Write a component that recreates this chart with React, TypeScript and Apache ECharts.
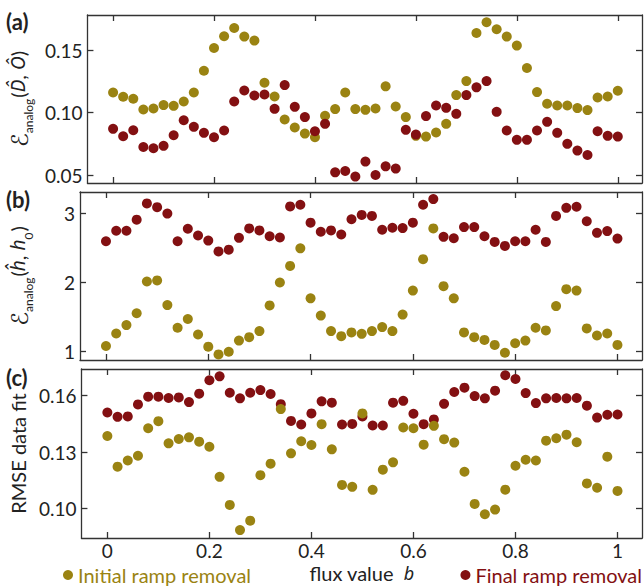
import React, { useEffect, useRef } from 'react';
import * as echarts from 'echarts';

const fluxValues = [0, 0.02, 0.04, 0.06, 0.08, 0.1, 0.12, 0.14, 0.16, 0.18, 0.2, 0.22, 0.24, 0.26, 0.28, 0.3, 0.32, 0.34, 0.36, 0.38, 0.4, 0.42, 0.44, 0.46, 0.48, 0.5, 0.52, 0.54, 0.56, 0.58, 0.6, 0.62, 0.64, 0.66, 0.68, 0.7, 0.72, 0.74, 0.76, 0.78, 0.8, 0.82, 0.84, 0.86, 0.88, 0.9, 0.92, 0.94, 0.96, 0.98, 1];

const aInitial = [0.116, 0.1126, 0.111, 0.1024, 0.1032, 0.1059, 0.1053, 0.1088, 0.116, 0.1334, 0.1516, 0.161, 0.1676, 0.1607, 0.1575, 0.1238, 0.1128, 0.0944, 0.088, 0.0831, 0.0802, 0.0973, 0.1027, 0.116, 0.1027, 0.1021, 0.1032, 0.1209, 0.1048, 0.0963, 0.0813, 0.0807, 0.084, 0.0909, 0.1139, 0.1251, 0.1636, 0.1722, 0.1666, 0.1607, 0.1535, 0.1356, 0.1163, 0.107, 0.1056, 0.1056, 0.1035, 0.1019, 0.112, 0.1128, 0.1174];
const aFinal = [0.0869, 0.081, 0.0858, 0.0724, 0.0714, 0.0733, 0.0818, 0.0938, 0.0885, 0.0837, 0.0802, 0.0856, 0.1088, 0.1176, 0.1136, 0.1144, 0.1029, 0.1219, 0.1045, 0.0963, 0.085, 0.0909, 0.0521, 0.0532, 0.0487, 0.0607, 0.05, 0.0569, 0.0551, 0.0861, 0.0823, 0.0971, 0.1056, 0.1037, 0.0989, 0.1139, 0.1201, 0.1251, 0.1005, 0.0856, 0.0781, 0.0781, 0.0856, 0.0925, 0.0837, 0.0749, 0.0695, 0.066, 0.085, 0.0813, 0.0807];

const bInitial = [1.083, 1.264, 1.386, 1.557, 2.017, 2.032, 1.675, 1.347, 1.474, 1.249, 1.073, 0.961, 1.0, 1.161, 1.21, 1.298, 1.67, 2.002, 2.242, 2.496, 1.773, 1.523, 1.298, 1.225, 1.279, 1.259, 1.298, 1.357, 1.298, 1.538, 1.885, 2.34, 2.785, 1.949, 1.773, 1.279, 1.21, 1.171, 1.098, 0.985, 1.122, 1.161, 1.347, 1.308, 1.66, 1.905, 1.885, 1.337, 1.235, 1.264, 1.098];
const bFinal = [2.599, 2.751, 2.751, 2.912, 3.147, 3.093, 3.0, 2.599, 2.78, 2.682, 2.609, 2.452, 2.477, 2.648, 2.785, 2.756, 2.672, 2.653, 3.103, 3.127, 2.868, 2.736, 2.756, 2.697, 2.917, 2.98, 2.966, 2.765, 2.795, 2.79, 2.868, 3.127, 3.21, 2.663, 2.643, 2.804, 2.804, 2.672, 2.589, 2.531, 2.599, 2.599, 2.765, 2.589, 2.966, 3.083, 3.098, 2.888, 2.721, 2.746, 2.638];

const cInitial = [0.1386, 0.1223, 0.1256, 0.1281, 0.1427, 0.1465, 0.1347, 0.137, 0.1379, 0.1356, 0.1329, 0.1169, 0.102, 0.0886, 0.0936, 0.1178, 0.1239, 0.1529, 0.1294, 0.1358, 0.1338, 0.1449, 0.1315, 0.1126, 0.1116, 0.1506, 0.11, 0.1207, 0.1246, 0.1431, 0.1427, 0.134, 0.144, 0.1369, 0.1351, 0.1196, 0.1025, 0.097, 0.0995, 0.1101, 0.1228, 0.126, 0.1256, 0.1361, 0.1374, 0.1393, 0.1353, 0.1134, 0.1111, 0.1276, 0.1094];
const cFinal = [0.1511, 0.1488, 0.149, 0.1554, 0.1595, 0.1595, 0.1588, 0.1591, 0.1566, 0.1611, 0.1682, 0.1703, 0.1616, 0.1586, 0.1616, 0.163, 0.1609, 0.1555, 0.1466, 0.1447, 0.1506, 0.157, 0.1563, 0.1447, 0.145, 0.149, 0.1442, 0.1442, 0.1563, 0.1573, 0.1504, 0.1449, 0.1474, 0.1557, 0.162, 0.1643, 0.1598, 0.1586, 0.1627, 0.1709, 0.1689, 0.1614, 0.1561, 0.1586, 0.1588, 0.1586, 0.1588, 0.1547, 0.1484, 0.1499, 0.15];

const xTicks = [0, 0.2, 0.4, 0.6, 0.8, 1];
const aTicks = [0.05, 0.1, 0.15];
const bTicks = [1, 2, 3];
const cTicks = [0.1, 0.13, 0.16];
const panelLabels = ['(a)', '(b)', '(c)'];
const seriesNames = ['Initial ramp removal', 'Final ramp removal'];

const OLIVE = '#9a8312';
const RED = '#831012';
const INK = '#222222';
const FRAME = '#333333';
const FONT = 'Lato, "Noto Sans", "DejaVu Sans", sans-serif';

const pairs = (ys: number[]) => fluxValues.map((x, i) => [x, ys[i]]);

export default function App() {
  const ref = useRef<HTMLDivElement>(null);
  useEffect(() => {
    if (!ref.current) return;
    const chart = echarts.init(ref.current, undefined, { renderer: 'svg' });

    const grids = [
      { left: 80, right: 2, top: 15, height: 168 },
      { left: 80, right: 2, top: 192, height: 168 },
      { left: 80, right: 2, top: 369, height: 169 },
    ];
    const yRanges = [
      { min: 0.0436, max: 0.178, ticks: aTicks, fmt: (v: number) => v.toFixed(2) },
      { min: 0.88, max: 3.312, ticks: bTicks, fmt: (v: number) => String(Math.round(v)) },
      { min: 0.0844, max: 0.1742, ticks: cTicks, fmt: (v: number) => v.toFixed(2) },
    ];

    const subRich = {
      e: { fontSize: 23, fontFamily: '"DejaVu Serif", "DejaVu Sans", serif', fontStyle: 'italic', lineHeight: 24, verticalAlign: 'top', color: INK },
      s: { fontSize: 12, fontFamily: FONT, lineHeight: 12, padding: [14, 1, 0, 0], verticalAlign: 'top', color: INK },
      n: { fontSize: 20, fontFamily: FONT, lineHeight: 24, verticalAlign: 'top', color: INK },
      i: { fontSize: 19, fontFamily: '"Noto Sans", "DejaVu Sans", sans-serif', fontStyle: 'italic', lineHeight: 24, verticalAlign: 'top', color: INK },
    };
    const yNames = [
      '{e|\u2130}{s|analog}{n|(}{i|D\u0302}{n|, }{i|\u00D4}{n|)}',
      '{e|\u2130}{s|analog}{n|(}{i|\u0125}{n|, }{i|h}{s|0}{n|)}',
      'RMSE data fit',
    ];

    const xAxis: any[] = [];
    const yAxis: any[] = [];
    grids.forEach((_, g) => {
      ['bottom', 'top'].forEach((pos) => {
        const showLabel = g === 2 && pos === 'bottom';
        xAxis.push({
          type: 'value',
          gridIndex: g,
          position: pos,
          min: -0.0508,
          max: 1.048,
          axisLine: { show: true, onZero: false, lineStyle: { color: FRAME, width: 1.3 } },
          axisTick: { show: true, inside: true, length: 6, customValues: xTicks, lineStyle: { color: FRAME, width: 1.3 } },
          axisLabel: {
            show: showLabel,
            customValues: xTicks,
            formatter: (v: number) => String(Math.round(v * 10) / 10),
            fontSize: 19,
            lineHeight: 14,
            fontFamily: FONT,
            color: INK,
            margin: 5,
          },
          splitLine: { show: false },
          name: showLabel ? '{n|flux value}   {i|b}' : '',
          nameLocation: 'middle',
          nameGap: 28,
          nameTextStyle: {
            lineHeight: 14,
            rich: {
              n: { fontSize: 20, lineHeight: 14, fontFamily: FONT, color: INK },
              i: { fontSize: 18, lineHeight: 14, fontFamily: '"Noto Sans", sans-serif', fontStyle: 'italic', color: INK },
            },
          },
        });
      });
      ['left', 'right'].forEach((pos) => {
        const r = yRanges[g];
        const isLeft = pos === 'left';
        yAxis.push({
          type: 'value',
          gridIndex: g,
          position: pos,
          min: r.min,
          max: r.max,
          axisLine: { show: true, onZero: false, lineStyle: { color: FRAME, width: 1.3 } },
          axisTick: { show: true, inside: true, length: 6, customValues: r.ticks, lineStyle: { color: FRAME, width: 1.3 } },
          axisLabel: {
            show: isLeft,
            customValues: r.ticks,
            formatter: r.fmt,
            fontSize: 19,
            fontFamily: FONT,
            color: INK,
            margin: 5,
          },
          splitLine: { show: false },
          name: isLeft ? yNames[g] : '',
          nameLocation: 'middle',
          nameGap: 48,
          nameTextStyle: g === 2
            ? { fontSize: 20, fontFamily: FONT, color: INK }
            : { rich: subRich },
        });
      });
    });

    const mk = (name: string, color: string, g: number, ys: number[]) => ({
      type: 'scatter',
      name,
      xAxisIndex: g * 2,
      yAxisIndex: g * 2,
      data: pairs(ys),
      symbol: 'circle',
      symbolSize: 10,
      itemStyle: { color, opacity: 1 },
      emphasis: { disabled: true },
    });

    const series = [
      mk(seriesNames[0], OLIVE, 0, aInitial),
      mk(seriesNames[1], RED, 0, aFinal),
      mk(seriesNames[0], OLIVE, 1, bInitial),
      mk(seriesNames[1], RED, 1, bFinal),
      mk(seriesNames[1], RED, 2, cFinal),
      mk(seriesNames[0], OLIVE, 2, cInitial),
    ];

    const legendBase = {
      top: 565,
      icon: 'circle',
      itemWidth: 10,
      itemHeight: 10,
      itemGap: 0,
      padding: 0,
    };

    chart.setOption({
      animation: false,
      backgroundColor: '#ffffff',
      grid: grids,
      xAxis,
      yAxis,
      series,
      legend: [
        {
          ...legendBase,
          data: [seriesNames[0]],
          left: 63,
          textStyle: { color: OLIVE, fontSize: 20, lineHeight: 14, fontFamily: FONT },
        },
        {
          ...legendBase,
          data: [seriesNames[1]],
          right: 2,
          textStyle: { color: RED, fontSize: 20, lineHeight: 14, fontFamily: FONT },
        },
      ],
      graphic: panelLabels.map((t, k) => ({
        type: 'text',
        left: 6,
        top: [10, 188, 366][k],
        style: { text: t, fontSize: 22, fontWeight: 'bold', fontFamily: FONT, fill: INK },
      })),
    });

    return () => chart.dispose();
  }, []);

  return (
    <div
      ref={ref}
      style={{ position: 'fixed', left: 0, top: 0, width: 644, height: 586, background: '#fff' }}
    />
  );
}
